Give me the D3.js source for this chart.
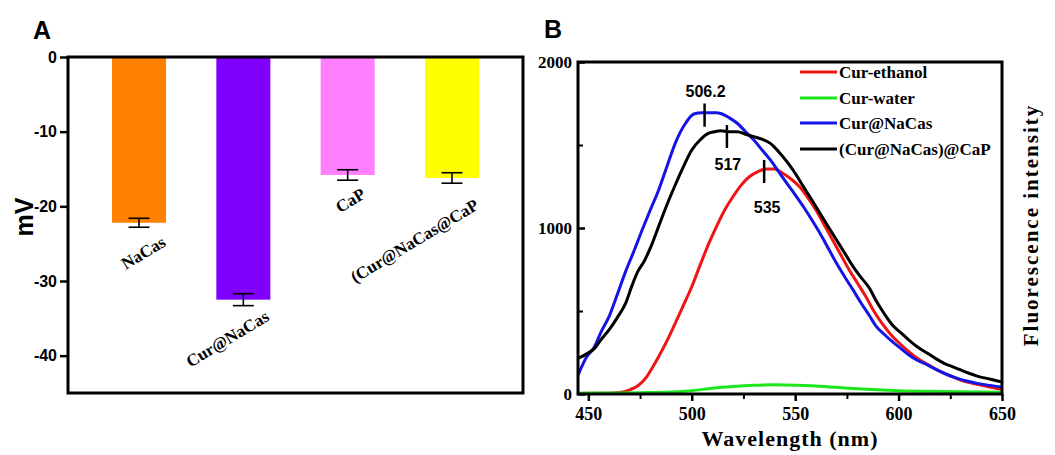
<!DOCTYPE html>
<html>
<head>
<meta charset="utf-8">
<script src="https://cdn.jsdelivr.net/npm/d3@7"></script>
<style>
    body { margin: 0; background: #fff; }
    svg { display: block; }
</style>
</head>
<body>
<div id="chart"></div>
<script>
// Panel A: zeta potential
const zetaCategories = ['NaCas', 'Cur@NaCas', 'CaP', '(Cur@NaCas@CaP'];
const zetaValues = [-22.2, -32.5, -15.8, -16.2];
const zetaErrors = [0.6, 0.8, 0.7, 0.7];
const zetaColors = ['#ff8000', '#7f00ff', '#ff80ff', '#ffff00'];
const zetaTicks = [0, -10, -20, -30, -40];

// Panel B: fluorescence spectra, [wavelength nm, intensity]
const curEthanol = [[445,3],[455,4],[462,6],[466,10],[470,25],[474,50],[478,100],[481,160],[484,225],[488,320],
    [492,426],[496,535],[500,646],[504,775],[508,900],[512,1010],[516,1110],[520,1190],[524,1260],[528,1310],
    [532,1340],[536,1355],[540,1355],[544,1330],[548,1295],[552,1250],[556,1185],[560,1110],[564,1020],[568,930],
    [572,840],[576,750],[580,670],[584,590],[588,500],[592,425],[596,362],[600,310],[605,255],[609,215],
    [614,178],[618,150],[622,125],[626,104],[630,84],[634,70],[638,58],[644,42],[650,28]];
const curWater = [[445,5],[460,6],[475,8],[490,12],[500,20],[510,35],[520,45],[530,52],[540,55],[550,53],
    [560,48],[570,40],[580,32],[590,25],[600,20],[620,15],[650,10]];
const curNaCas = [[445,114],[449,220],[453,285],[456,370],[460,466],[464,600],[468,737],[472,860],[476,988],
    [480,1110],[484,1229],[488,1370],[492,1510],[497,1631],[501,1687],[505,1695],[508,1695],[512,1695],[514,1690],
    [518,1665],[522,1631],[526,1580],[530,1530],[534,1470],[538,1410],[542,1340],[546,1269],[550,1200],[554,1128],
    [558,1050],[562,968],[566,878],[570,787],[574,705],[578,627],[582,545],[586,470],[589,410],[593,360],
    [597,315],[601,275],[605,235],[609,203],[614,175],[618,148],[622,125],[626,105],[630,88],[634,75],
    [638,64],[644,52],[650,42]];
const curNaCasCaP = [[445,215],[449,240],[453,275],[456,325],[460,386],[464,460],[468,546],[471,650],[474,740],
    [477,800],[480,880],[484,1010],[488,1140],[492,1259],[496,1370],[500,1470],[504,1530],[508,1570],
    [511,1580],[514,1586],[518,1580],[522,1580],[526,1565],[530,1550],[534,1535],[538,1510],[542,1460],[546,1400],
    [550,1330],[554,1249],[558,1170],[562,1088],[566,1008],[570,928],[574,848],[578,767],[582,700],[586,635],
    [589,565],[593,485],[597,416],[601,370],[605,325],[609,285],[614,245],[618,213],[622,185],[626,165],
    [630,145],[634,125],[638,108],[644,90],[650,72]];
const seriesNames = ['Cur-ethanol', 'Cur-water', 'Cur@NaCas', '(Cur@NaCas)@CaP'];
const seriesColors = ['#f01414', '#1ee61e', '#1414e6', '#000000'];
const peakNm = [506.2, 517, 535];
const peakLabels = ['506.2', '517', '535'];

let svg = d3.select('#chart')
    .append('svg')
    .attr('width', 1055)
    .attr('height', 455);

svg.append('rect').attr('width', 1055).attr('height', 455).attr('fill', '#fff');

drawPanelA();
drawPanelB();

// d3.axis writes its own font-size/family on the group, so set ours after the call
function axisFont(sel, family, size) {
    sel.attr('font-family', family)
        .attr('font-size', size)
        .attr('font-weight', 'bold');
    sel.selectAll('text').attr('fill', '#000');
}

function drawPanelA() {
    let box = {left: 68, right: 523, top: 57, bottom: 393};

    let x = d3.scaleBand()
        .domain(zetaCategories)
        .range([box.left, box.right])
        .paddingInner(0.482)
        .paddingOuter(0.422);

    let y = d3.scaleLinear().domain([-45, 0]).range([box.bottom, box.top]);

    let g = svg.append('g');

    g.selectAll('.bar')
        .data(zetaValues)
        .enter()
        .append('rect')
        .attr('class', 'bar')
        .attr('x', (d, i) => x(zetaCategories[i]))
        .attr('width', x.bandwidth())
        .attr('y', y(0))
        .attr('height', d => y(d) - y(0))
        .attr('fill', (d, i) => zetaColors[i]);

    // error bars
    let capHalf = 10.5;
    zetaValues.forEach(function(v, i) {
        let cx = x(zetaCategories[i]) + x.bandwidth() / 2;
        let e = g.append('g').attr('stroke', '#000').attr('stroke-width', 1.6);
        e.append('line').attr('x1', cx).attr('x2', cx).attr('y1', y(v + zetaErrors[i])).attr('y2', y(v - zetaErrors[i]));
        e.append('line').attr('x1', cx - capHalf).attr('x2', cx + capHalf).attr('y1', y(v + zetaErrors[i])).attr('y2', y(v + zetaErrors[i]));
        e.append('line').attr('x1', cx - capHalf).attr('x2', cx + capHalf).attr('y1', y(v - zetaErrors[i])).attr('y2', y(v - zetaErrors[i]));
    });

    // rotated category labels under each bar
    let labelOffset = [[28, 18], [27, 14], [19, 17], [28, 25]];
    g.selectAll('.catLabel')
        .data(zetaCategories)
        .enter()
        .append('text')
        .attr('class', 'catLabel')
        .attr('text-anchor', 'end')
        .attr('transform', function(d, i) {
            let cx = x(d) + x.bandwidth() / 2 + labelOffset[i][0];
            let cy = y(zetaValues[i] - zetaErrors[i]) + labelOffset[i][1];
            return 'translate(' + cx + ',' + cy + ') rotate(-31)';
        })
        .attr('font-family', '"Liberation Serif", serif')
        .attr('font-weight', 'bold')
        .attr('font-size', 17)
        .text(d => d);

    let yAxis = d3.axisLeft(y).tickValues(zetaTicks).tickSize(8).tickPadding(3).tickFormat(d => String(d));
    let ay = g.append('g')
        .attr('transform', 'translate(' + box.left + ',0)')
        .call(yAxis);
    axisFont(ay, '"Liberation Sans", Arial, sans-serif', 16);
    ay.select('.domain').remove();
    ay.selectAll('line').attr('stroke-width', 2.5);

    g.append('rect')
        .attr('x', box.left)
        .attr('y', box.top)
        .attr('width', box.right - box.left)
        .attr('height', box.bottom - box.top)
        .attr('fill', 'none')
        .attr('stroke', '#000')
        .attr('stroke-width', 3);

    g.append('text')
        .attr('transform', 'translate(33,217) rotate(-90)')
        .attr('text-anchor', 'middle')
        .style('font', 'bold 25px "Liberation Sans", Arial, sans-serif')
        .text('mV');

    g.append('text')
        .attr('x', 33).attr('y', 39)
        .style('font', 'bold 25px "Liberation Sans", Arial, sans-serif')
        .text('A');
}

function drawPanelB() {
    let box = {left: 578, right: 1002, top: 62, bottom: 394};

    let x = d3.scaleLinear().domain([445, 650]).range([box.left, box.right]);
    let y = d3.scaleLinear().domain([0, 2000]).range([box.bottom, box.top]);

    let g = svg.append('g');

    let clip = svg.append('clipPath').attr('id', 'clipB');
    clip.append('rect')
        .attr('x', box.left).attr('y', box.top)
        .attr('width', box.right - box.left).attr('height', box.bottom - box.top);

    let line = d3.line()
        .x(d => x(d[0]))
        .y(d => y(d[1]))
        .curve(d3.curveMonotoneX);

    let allSeries = [curEthanol, curWater, curNaCas, curNaCasCaP];
    let drawOrder = [0, 2, 3, 1];
    drawOrder.forEach(function(i) {
        g.append('path')
            .datum(allSeries[i])
            .attr('clip-path', 'url(#clipB)')
            .attr('fill', 'none')
            .attr('stroke', seriesColors[i])
            .attr('stroke-width', 3)
            .attr('stroke-linejoin', 'round')
            .attr('d', line);
    });

    let serif = '"Liberation Serif", serif';

    // x axis: major + minor ticks, outward
    let xMinor = g.append('g')
        .attr('transform', 'translate(0,' + box.bottom + ')')
        .call(d3.axisBottom(x).tickValues([475, 525, 575, 625]).tickSize(5).tickFormat(''));
    xMinor.select('.domain').remove();
    xMinor.selectAll('line').attr('stroke-width', 2);

    let xAxis = g.append('g')
        .attr('transform', 'translate(0,' + box.bottom + ')')
        .call(d3.axisBottom(x).tickValues([450, 500, 550, 600, 650]).tickSize(7).tickPadding(6).tickFormat(d => String(d)));
    axisFont(xAxis, serif, 18);
    xAxis.select('.domain').remove();
    xAxis.selectAll('line').attr('stroke-width', 2.5);

    // y axis: ticks inward
    let yMinor = g.append('g')
        .attr('transform', 'translate(' + box.left + ',0)')
        .call(d3.axisLeft(y).tickValues([500, 1500]).tickSize(-5).tickFormat(''));
    yMinor.select('.domain').remove();
    yMinor.selectAll('line').attr('stroke-width', 2);

    let yAxis = g.append('g')
        .attr('transform', 'translate(' + box.left + ',0)')
        .call(d3.axisLeft(y).tickValues([0, 1000, 2000]).tickSize(-7).tickPadding(6).tickFormat(d => String(d)));
    axisFont(yAxis, serif, 17);
    yAxis.select('.domain').remove();
    yAxis.selectAll('line').attr('stroke-width', 2.5);

    g.append('rect')
        .attr('x', box.left)
        .attr('y', box.top)
        .attr('width', box.right - box.left)
        .attr('height', box.bottom - box.top)
        .attr('fill', 'none')
        .attr('stroke', '#000')
        .attr('stroke-width', 3);

    // peak markers
    let tickSpans = [[1750, 1610], [1620, 1482], [1410, 1271]];
    let labelY = [97, 170, 213];
    peakNm.forEach(function(p, i) {
        g.append('line')
            .attr('x1', x(p)).attr('x2', x(p))
            .attr('y1', y(tickSpans[i][0])).attr('y2', y(tickSpans[i][1]))
            .attr('stroke', '#000').attr('stroke-width', 2.5);
        g.append('text')
            .attr('x', x(p) + (i === 2 ? 3 : 1))
            .attr('y', labelY[i])
            .attr('text-anchor', 'middle')
            .style('font', 'bold 16px "Liberation Sans", Arial, sans-serif')
            .text(peakLabels[i]);
    });

    // legend
    let legendY = [72, 98, 123, 149];
    seriesNames.forEach(function(name, i) {
        g.append('line')
            .attr('x1', 800).attr('x2', 837)
            .attr('y1', legendY[i]).attr('y2', legendY[i])
            .attr('stroke', seriesColors[i]).attr('stroke-width', 3);
        g.append('text')
            .attr('x', 839).attr('y', legendY[i])
            .attr('dy', '0.35em')
            .style('font', 'bold 17px "Liberation Serif", serif')
            .text(name);
    });

    g.append('text')
        .attr('x', 790).attr('y', 446)
        .attr('text-anchor', 'middle')
        .style('font', 'bold 22px "Liberation Serif", serif')
        .style('letter-spacing', '1px')
        .text('Wavelength (nm)');

    g.append('text')
        .attr('transform', 'translate(1038,225) rotate(-90)')
        .attr('text-anchor', 'middle')
        .style('font', 'bold 21px "Liberation Serif", serif')
        .style('letter-spacing', '2px')
        .text('Fluorescence intensity');

    g.append('text')
        .attr('x', 544).attr('y', 38)
        .style('font', 'bold 25px "Liberation Sans", Arial, sans-serif')
        .text('B');
}
</script>
</body>
</html>
